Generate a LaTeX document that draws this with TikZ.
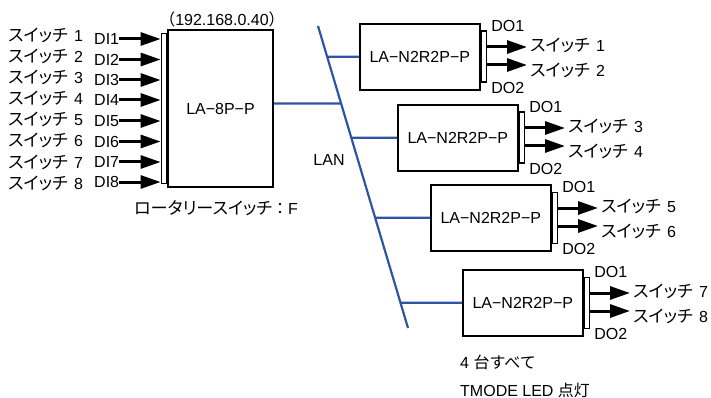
\documentclass[tikz,border=0pt]{standalone}
\usepackage{fontspec}
\setmainfont{Liberation Sans}
\newfontfamily\jpfont{Noto Sans CJK JP}
\newfontfamily\jpkana{Noto Sans CJK JP}[RawFeature=+palt,Scale=1.07]
\usepackage{tikz}
\usetikzlibrary{arrows.meta,positioning}
\definecolor{lanblue}{RGB}{47,84,164}
\newcommand{\SwName}[1]{{\jpkana スイッチ}\hspace{0.4em}#1}

\begin{document}
\begin{tikzpicture}[x=1pt,y=-1pt,
  every node/.style={font=\fontsize{16}{18}\selectfont,inner sep=0pt},
  unit/.style={draw,line width=1.6pt,minimum width=105pt,minimum height=157pt},
  relay/.style={draw,line width=1.6pt,minimum width=120pt,minimum height=66pt,anchor=north west},
  bar/.style={draw,line width=1.6pt,minimum width=5pt},
  lbl/.style={anchor=west},
  sig/.style={-{Triangle[length=20pt,width=13pt]},line width=3pt},
  lan/.style={lanblue,line width=2.2pt},
  ]
  \useasboundingbox (0,0) rectangle (711,398);

  %─── Input unit ─────────────────────────────────────────────────────────────
  \node[unit] (ctrl) at (220.5,108.5) {LA−8P−P};
  \node[bar,minimum height=150pt,left=0pt of ctrl] (ctrlbar) {};
  \node (ip) at (222,19) {{\jpfont （}192.168.0.40{\jpfont ）}};
  \node (rotary) at (216,208) {{\jpkana ロータリースイッチ}{\jpfont ：}F};

  %─── Switch inputs ──────────────────────────────────────────────────────────
  \node[lbl] (sw1) at (8,35) {\SwName{1}};
  \node[lbl] (sw2) at (8,56) {\SwName{2}};
  \node[lbl] (sw3) at (8,77) {\SwName{3}};
  \node[lbl] (sw4) at (8,98) {\SwName{4}};
  \node[lbl] (sw5) at (8,119) {\SwName{5}};
  \node[lbl] (sw6) at (8,140) {\SwName{6}};
  \node[lbl] (sw7) at (8,162) {\SwName{7}};
  \node[lbl] (sw8) at (8,183) {\SwName{8}};

  \node[lbl] (di1) at (94,39) {DI1};
  \node[lbl] (di2) at (94,59.5) {DI2};
  \node[lbl] (di3) at (94,80) {DI3};
  \node[lbl] (di4) at (94,100) {DI4};
  \node[lbl] (di5) at (94,121) {DI5};
  \node[lbl] (di6) at (94,141.5) {DI6};
  \node[lbl] (di7) at (94,162) {DI7};
  \node[lbl] (di8) at (94,182) {DI8};

  \draw[sig] (di1.east) -- (di1.east -| ctrlbar.west);
  \draw[sig] (di2.east) -- (di2.east -| ctrlbar.west);
  \draw[sig] (di3.east) -- (di3.east -| ctrlbar.west);
  \draw[sig] (di4.east) -- (di4.east -| ctrlbar.west);
  \draw[sig] (di5.east) -- (di5.east -| ctrlbar.west);
  \draw[sig] (di6.east) -- (di6.east -| ctrlbar.west);
  \draw[sig] (di7.east) -- (di7.east -| ctrlbar.west);
  \draw[sig] (di8.east) -- (di8.east -| ctrlbar.west);

  %─── Relay units ────────────────────────────────────────────────────────────
  \node[relay] (relay1) at (359,23) {LA−N2R2P−P};
  \node[relay] (relay2) at (397,104) {LA−N2R2P−P};
  \node[relay] (relay3) at (430,184) {LA−N2R2P−P};
  \node[relay] (relay4) at (462,269) {LA−N2R2P−P};

  \node[bar,minimum height=51pt,right=0pt of relay1] (bar1) {};
  \node[bar,minimum height=51pt,right=0pt of relay2] (bar2) {};
  \node[bar,minimum height=51pt,right=0pt of relay3] (bar3) {};
  \node[bar,minimum height=51pt,right=0pt of relay4] (bar4) {};

  \node[lbl] (do1a) at ([shift={(4pt,5pt)}]bar1.north east) {DO1};
  \node[lbl] (do1b) at ([shift={(4pt,-5pt)}]bar1.south east) {DO2};
  \node[lbl] (do2a) at ([shift={(4pt,5pt)}]bar2.north east) {DO1};
  \node[lbl] (do2b) at ([shift={(4pt,-5pt)}]bar2.south east) {DO2};
  \node[lbl] (do3a) at ([shift={(4pt,5pt)}]bar3.north east) {DO1};
  \node[lbl] (do3b) at ([shift={(4pt,-5pt)}]bar3.south east) {DO2};
  \node[lbl] (do4a) at ([shift={(4pt,5pt)}]bar4.north east) {DO1};
  \node[lbl] (do4b) at ([shift={(4pt,-5pt)}]bar4.south east) {DO2};

  %─── Switch outputs ─────────────────────────────────────────────────────────
  \coordinate (o1) at (527,47);  \coordinate (o2) at (527,65);
  \coordinate (o3) at (565,128); \coordinate (o4) at (565,146);
  \coordinate (o5) at (598,208); \coordinate (o6) at (598,226);
  \coordinate (o7) at (630,293); \coordinate (o8) at (630,311);

  \draw[sig] (o1 -| bar1.east) -- (o1);
  \draw[sig] (o2 -| bar1.east) -- (o2);
  \draw[sig] (o3 -| bar2.east) -- (o3);
  \draw[sig] (o4 -| bar2.east) -- (o4);
  \draw[sig] (o5 -| bar3.east) -- (o5);
  \draw[sig] (o6 -| bar3.east) -- (o6);
  \draw[sig] (o7 -| bar4.east) -- (o7);
  \draw[sig] (o8 -| bar4.east) -- (o8);

  \node[lbl] (out1) at (530,45) {\SwName{1}};
  \node[lbl] (out2) at (530,70) {\SwName{2}};
  \node[lbl] (out3) at (568,126) {\SwName{3}};
  \node[lbl] (out4) at (568,151) {\SwName{4}};
  \node[lbl] (out5) at (601,206) {\SwName{5}};
  \node[lbl] (out6) at (601,231) {\SwName{6}};
  \node[lbl] (out7) at (633,291) {\SwName{7}};
  \node[lbl] (out8) at (633,316) {\SwName{8}};

  %─── LAN ────────────────────────────────────────────────────────────────────
  \coordinate (lantop) at (318,26);
  \coordinate (lanbot) at (408,328);
  \draw[lan] (lantop) -- (lanbot);
  \node (lanlbl) at (329,160) {LAN};

  \coordinate (m0) at ([yshift=5pt]ctrl.east);
  \coordinate (m1) at ([yshift=5pt]ctrl.west);
  \draw[lan] (m0) -- (intersection of lantop--lanbot and m0--m1);
  \draw[lan] (relay1.west) -- (intersection of lantop--lanbot and relay1.west--relay1.east);
  \draw[lan] (relay2.west) -- (intersection of lantop--lanbot and relay2.west--relay2.east);
  \draw[lan] (relay3.west) -- (intersection of lantop--lanbot and relay3.west--relay3.east);
  \draw[lan] (relay4.west) -- (intersection of lantop--lanbot and relay4.west--relay4.east);

  %─── Note ───────────────────────────────────────────────────────────────────
  \node[lbl] (note1) at (460,362) {4 {\jpfont 台すべて}};
  \node[lbl] (note2) at (460,390) {TMODE LED {\jpfont 点灯}};

\end{tikzpicture}
\end{document}
